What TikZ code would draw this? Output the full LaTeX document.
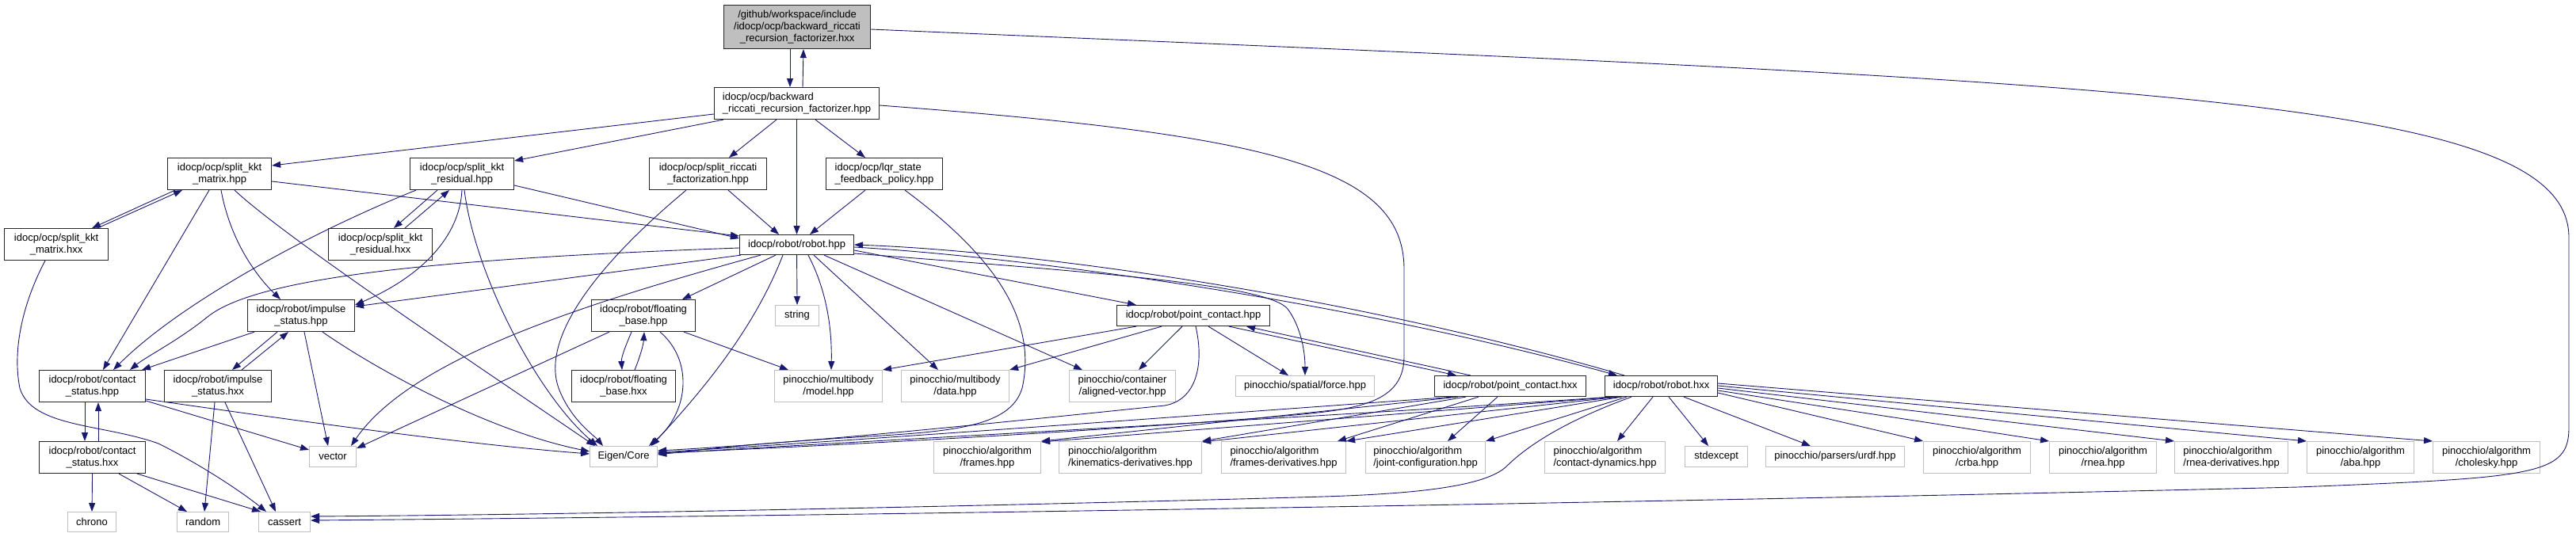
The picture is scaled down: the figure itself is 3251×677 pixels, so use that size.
\documentclass[tikz,border=0pt]{standalone}
\usepackage{fontspec}
\setmainfont{Liberation Sans}
\usetikzlibrary{arrows.meta}
\definecolor{mblue}{RGB}{25,25,112}
\definecolor{extgray}{RGB}{191,191,191}
\definecolor{topgray}{RGB}{191,191,191}
\begin{document}
\begin{tikzpicture}[x=1pt,y=-1pt,
  inbox/.style={draw=black!85, line width=1.1pt, inner sep=0pt, anchor=north west, align=center,
    font=\fontsize{13}{15}\selectfont, text=black},
  exbox/.style={inbox, draw=extgray},
  dep/.style={draw=mblue, line width=0.9pt, -{Triangle[length=11pt,width=8pt]}}]
\fill[white] (0,0) rectangle (3251,677);
\useasboundingbox (0,0) rectangle (3251,677);

% ---------- internal nodes ----------
\node[inbox, fill=topgray, minimum width=185pt, minimum height=55pt] (A) at (913,6) {/github/workspace/include\\/idocp/ocp/backward\_riccati\\\_recursion\_factorizer.hxx};
\node[inbox, align=left, minimum width=208pt, minimum height=40pt] (B) at (901,110) {idocp/ocp/backward\\\_riccati\_recursion\_factorizer.hpp};
\node[inbox, minimum width=131pt, minimum height=40pt] (C) at (211,199) {idocp/ocp/split\_kkt\\\_matrix.hpp};
\node[inbox, minimum width=131pt, minimum height=40pt] (D) at (5,288) {idocp/ocp/split\_kkt\\\_matrix.hxx};
\node[inbox, minimum width=131pt, minimum height=40pt] (E) at (517,199) {idocp/ocp/split\_kkt\\\_residual.hpp};
\node[inbox, minimum width=131pt, minimum height=40pt] (F) at (414,288) {idocp/ocp/split\_kkt\\\_residual.hxx};
\node[inbox, minimum width=148pt, minimum height=40pt] (G) at (819,199) {idocp/ocp/split\_riccati\\\_factorization.hpp};
\node[inbox, align=left, minimum width=147pt, minimum height=40pt] (H) at (1042,199) {idocp/ocp/lqr\_state\\\_feedback\_policy.hpp};
\node[inbox, minimum width=144pt, minimum height=25pt] (R) at (933,296) {idocp/robot/robot.hpp};
\node[inbox, minimum width=135pt, minimum height=40pt] (I) at (312,378) {idocp/robot/impulse\\\_status.hpp};
\node[inbox, minimum width=134pt, minimum height=40pt] (K) at (49,467) {idocp/robot/contact\\\_status.hpp};
\node[inbox, minimum width=135pt, minimum height=40pt] (J) at (207,467) {idocp/robot/impulse\\\_status.hxx};
\node[inbox, minimum width=134pt, minimum height=40pt] (L) at (49,557) {idocp/robot/contact\\\_status.hxx};
\node[inbox, minimum width=131pt, minimum height=40pt] (FB) at (746,378) {idocp/robot/floating\\\_base.hpp};
\node[inbox, minimum width=131pt, minimum height=40pt] (FBX) at (721,467) {idocp/robot/floating\\\_base.hxx};
\node[inbox, minimum width=193pt, minimum height=26pt] (PC) at (1409,385) {idocp/robot/point\_contact.hpp};
\node[inbox, minimum width=191pt, minimum height=26pt] (PCX) at (1810,474) {idocp/robot/point\_contact.hxx};
\node[inbox, minimum width=142pt, minimum height=26pt] (RX) at (2025,474) {idocp/robot/robot.hxx};

% ---------- external nodes ----------
\node[exbox, minimum width=59pt, minimum height=26pt] (vector) at (390,563) {vector};
\node[exbox, minimum width=61pt, minimum height=25pt] (chrono) at (85,646) {chrono};
\node[exbox, minimum width=65pt, minimum height=25pt] (random) at (223,646) {random};
\node[exbox, minimum width=65pt, minimum height=25pt] (cassert) at (326,646) {cassert};
\node[exbox, minimum width=55pt, minimum height=26pt] (string) at (978,385) {string};
\node[exbox, minimum width=136pt, minimum height=40pt] (model) at (977,467) {pinocchio/multibody\\/model.hpp};
\node[exbox, minimum width=85pt, minimum height=26pt] (Eigen) at (744,563) {Eigen/Core};
\node[exbox, minimum width=136pt, minimum height=40pt] (data) at (1137,467) {pinocchio/multibody\\/data.hpp};
\node[exbox, minimum width=134pt, minimum height=40pt] (aligned) at (1349,467) {pinocchio/container\\/aligned-vector.hpp};
\node[exbox, minimum width=175pt, minimum height=26pt] (force) at (1559,474) {pinocchio/spatial/force.hpp};
\node[exbox, minimum width=135pt, minimum height=40pt] (frames) at (1178,557) {pinocchio/algorithm\\/frames.hpp};
\node[exbox, align=left, minimum width=180pt, minimum height=40pt] (kinder) at (1336,557) {pinocchio/algorithm\\/kinematics-derivatives.hpp};
\node[exbox, align=left, minimum width=157pt, minimum height=40pt] (framesder) at (1541,557) {pinocchio/algorithm\\/frames-derivatives.hpp};
\node[exbox, align=left, minimum width=151pt, minimum height=40pt] (jointconf) at (1723,557) {pinocchio/algorithm\\/joint-configuration.hpp};
\node[exbox, align=left, minimum width=152pt, minimum height=40pt] (contactdyn) at (1949,557) {pinocchio/algorithm\\/contact-dynamics.hpp};
\node[exbox, minimum width=79pt, minimum height=26pt] (stdexcept) at (2126,563) {stdexcept};
\node[exbox, minimum width=175pt, minimum height=26pt] (urdf) at (2228,563) {pinocchio/parsers/urdf.hpp};
\node[exbox, minimum width=135pt, minimum height=40pt] (crba) at (2427,557) {pinocchio/algorithm\\/crba.hpp};
\node[exbox, minimum width=135pt, minimum height=40pt] (rnea) at (2586,557) {pinocchio/algorithm\\/rnea.hpp};
\node[exbox, align=left, minimum width=143pt, minimum height=40pt] (rnead) at (2744,557) {pinocchio/algorithm\\/rnea-derivatives.hpp};
\node[exbox, minimum width=135pt, minimum height=40pt] (aba) at (2911,557) {pinocchio/algorithm\\/aba.hpp};
\node[exbox, minimum width=135pt, minimum height=40pt] (cholesky) at (3070,557) {pinocchio/algorithm\\/cholesky.hpp};

% ---------- edges ----------
% A
\draw[dep] ([xshift=84pt]A.south west) -- ([xshift=96pt]B.north west);
\draw[dep] ([xshift=112pt]B.north west) -- ([xshift=101pt]A.south west);
\draw[dep] ([yshift=-31pt]A.north east) .. controls (2700,105) and (3242,120) .. (3242,300) -- (3242,540) .. controls (3242,600) and (3200,603) .. (2900,615) .. controls (2200,632) and (1200,650) .. ([yshift=-11pt]cassert.north east);
% B
\draw[dep] ([yshift=-34pt]B.north west) -- ([yshift=-10pt]C.north east);
\draw[dep] ([xshift=12pt]B.south west) -- ([yshift=-4pt]E.north east);
\draw[dep] ([xshift=79pt]B.south west) -- ([xshift=101pt]G.north west);
\draw[dep] (B.south) -- (R.north);
\draw[dep] ([xshift=128pt]B.south west) -- ([xshift=50pt]H.north west);
\draw[dep] ([yshift=-23pt]B.north east) .. controls (1600,170) and (1772,210) .. (1772,340) -- (1772,450) .. controls (1772,515) and (1700,518) .. (1600,527) .. controls (1300,550) and (1000,565) .. ([yshift=-9pt]Eigen.north east);
% C
\draw[dep] ([xshift=10pt]C.south west) -- ([xshift=111pt]D.north west);
\draw[dep] ([xshift=118pt]D.north west) -- ([xshift=19pt]C.south west);
\draw[dep] ([xshift=53pt]C.south west) -- ([xshift=81pt]K.north west);
\draw[dep] ([xshift=68pt]C.south west) .. controls (290,300) and (320,345) .. ([xshift=42pt]I.north west);
\draw[dep] ([xshift=85pt]C.south west) .. controls (360,300) and (600,460) .. ([xshift=7pt]Eigen.north west);
\draw[dep] ([yshift=-30pt]C.north east) -- ([yshift=-2pt]R.north west);
% D
\draw[dep] ([xshift=52pt]D.south west) .. controls (30,380) and (15,440) .. (25,490) .. controls (40,540) and (130,535) .. (200,560) .. controls (260,590) and (310,625) .. ([xshift=10pt]cassert.north west);
% E
\draw[dep] ([xshift=35pt]E.south west) -- ([xshift=83pt]F.north west);
\draw[dep] ([xshift=97pt]F.north west) -- ([xshift=50pt]E.south west);
\draw[dep] ([xshift=8pt]E.south west) .. controls (400,290) and (230,380) .. ([xshift=94pt]K.north west);
\draw[dep] ([xshift=66pt]E.south west) .. controls (580,300) and (530,350) .. ([yshift=-7pt]I.north east);
\draw[dep] ([xshift=69pt]E.south west) .. controls (600,350) and (680,500) .. ([xshift=10pt]Eigen.north west);
\draw[dep] ([yshift=-35pt]E.north east) -- ([yshift=-5pt]R.north west);
% G, H
\draw[dep] ([xshift=100pt]G.south west) -- ([xshift=50pt]R.north west);
\draw[dep] ([xshift=47pt]G.south west) .. controls (770,320) and (680,420) .. (705,490) .. controls (720,530) and (750,550) .. ([xshift=17pt]Eigen.north west);
\draw[dep] ([xshift=50pt]H.south west) -- ([xshift=89pt]R.north west);
\draw[dep] ([xshift=100pt]H.south west) .. controls (1250,320) and (1310,400) .. (1290,490) .. controls (1275,540) and (1200,545) .. (1080,552) .. controls (950,560) and (880,568) .. ([yshift=-11pt]Eigen.north east);
% R
\draw[dep] ([yshift=-17pt]R.north west) .. controls (600,325) and (330,345) .. (262,400) .. controls (225,430) and (185,450) .. ([xshift=115pt]K.north west);
\draw[dep] ([xshift=2pt]R.south west) -- ([yshift=-9pt]I.north east);
\draw[dep] ([xshift=27pt]R.south west) .. controls (750,380) and (520,450) .. ([xshift=53pt]vector.north west);
\draw[dep] ([xshift=46pt]R.south west) -- ([xshift=115pt]FB.north west);
\draw[dep] ([xshift=55pt]R.south west) .. controls (950,420) and (880,500) .. ([xshift=78pt]Eigen.north west);
\draw[dep] (R.south) -- (string.north);
\draw[dep] ([xshift=87pt]R.south west) .. controls (1045,370) and (1050,420) .. ([xshift=72pt]model.north west);
\draw[dep] ([xshift=94pt]R.south west) -- ([xshift=47pt]data.north west);
\draw[dep] ([xshift=107pt]R.south west) -- ([xshift=17pt]aligned.north west);
\draw[dep] ([yshift=-20pt]R.north east) -- ([xshift=25pt]PC.north west);
\draw[dep] ([yshift=-24pt]R.north east) .. controls (1400,345) and (1600,360) .. (1625,390) .. controls (1640,410) and (1647,440) .. ([xshift=88pt]force.north west);
\draw[dep] ([yshift=-16pt]R.north east) .. controls (1300,325) and (1700,380) .. ([xshift=16pt]RX.north west);
\draw[dep] ([xshift=25pt]RX.north west) .. controls (1700,372) and (1300,317) .. ([yshift=-13pt]R.north east);
% I
\draw[dep] ([xshift=38pt]I.south west) -- ([xshift=86pt]J.north west);
\draw[dep] ([xshift=98pt]J.north west) -- ([xshift=52pt]I.south west);
\draw[dep] ([xshift=9pt]I.south west) -- ([xshift=130pt]K.north west);
\draw[dep] ([xshift=72pt]I.south west) -- ([xshift=24pt]vector.north west);
\draw[dep] ([xshift=95pt]I.south west) .. controls (480,470) and (620,545) .. ([yshift=-7pt]Eigen.north west);
% K, L, J
\draw[dep] ([xshift=58pt]K.south west) -- ([xshift=58pt]L.north west);
\draw[dep] ([xshift=75pt]L.north west) -- ([xshift=75pt]K.south west);
\draw[dep] ([yshift=-39pt]K.north east) -- ([yshift=-5pt]vector.north west);
\draw[dep] ([yshift=-37pt]K.north east) .. controls (400,535) and (600,562) .. ([yshift=-10pt]Eigen.north west);
\draw[dep] ([xshift=64pt]J.south west) -- ([xshift=35pt]random.north west);
\draw[dep] ([xshift=77pt]J.south west) -- ([xshift=22pt]cassert.north west);
\draw[dep] (L.south) -- (chrono.north);
\draw[dep] ([xshift=101pt]L.south west) -- ([xshift=13pt]random.north west);
\draw[dep] ([xshift=124pt]L.south west) -- ([xshift=3pt]cassert.north west);
% FB
\draw[dep] ([xshift=51pt]FB.south west) .. controls (788,440) and (784,452) .. ([xshift=64pt]FBX.north west);
\draw[dep] ([xshift=80pt]FBX.north west) .. controls (808,450) and (812,435) .. ([xshift=67pt]FB.south west);
\draw[dep] ([xshift=87pt]FB.south west) .. controls (875,455) and (870,520) .. ([xshift=75pt]Eigen.north west);
\draw[dep] ([xshift=117pt]FB.south west) -- ([xshift=18pt]model.north west);
\draw[dep] ([xshift=23pt]FB.south west) -- ([yshift=-3pt]vector.north east);
% PC
\draw[dep] ([xshift=25pt]PC.south west) -- (model.north east);
\draw[dep] ([xshift=57pt]PC.south west) -- (data.north east);
\draw[dep] ([xshift=83pt]PC.south west) -- ([xshift=88pt]aligned.north west);
\draw[dep] ([xshift=116pt]PC.south west) -- ([xshift=67pt]force.north west);
\draw[dep] ([xshift=100pt]PC.south west) .. controls (1520,460) and (1510,505) .. (1470,512) .. controls (1200,540) and (1000,560) .. ([yshift=-6pt]Eigen.north east);
\draw[dep] ([xshift=142pt]PC.south west) -- ([xshift=28pt]PCX.north west);
\draw[dep] ([xshift=46pt]PCX.north west) -- ([xshift=164pt]PC.south west);
% PCX
\draw[dep] ([xshift=24pt]PCX.south west) .. controls (1500,525) and (1100,555) .. ([yshift=-8pt]Eigen.north east);
\draw[dep] ([xshift=30pt]PCX.south west) -- (frames.north east);
\draw[dep] ([xshift=40pt]PCX.south west) -- (kinder.north east);
\draw[dep] ([xshift=56pt]PCX.south west) -- ([xshift=147pt]framesder.north west);
\draw[dep] ([xshift=80pt]PCX.south west) -- ([xshift=104pt]jointconf.north west);
% RX
\draw[dep] ([xshift=8pt]RX.south west) .. controls (1700,525) and (1100,556) .. ([yshift=-10pt]Eigen.north east);
\draw[dep] ([xshift=14pt]RX.south west) -- ([yshift=-1pt]frames.north east);
\draw[dep] ([xshift=18pt]RX.south west) -- ([yshift=-1pt]kinder.north east);
\draw[dep] ([xshift=22pt]RX.south west) -- (framesder.north east);
\draw[dep] ([xshift=28pt]RX.south west) -- (jointconf.north east);
\draw[dep] ([xshift=61pt]RX.south west) -- ([xshift=92pt]contactdyn.north west);
\draw[dep] ([xshift=81pt]RX.south west) -- ([xshift=30pt]stdexcept.north west);
\draw[dep] ([xshift=100pt]RX.south west) -- ([xshift=57pt]urdf.north west);
\draw[dep] ([yshift=-22pt]RX.north east) -- (crba.north west);
\draw[dep] ([yshift=-19pt]RX.north east) -- (rnea.north west);
\draw[dep] ([yshift=-16pt]RX.north east) -- (rnead.north west);
\draw[dep] ([yshift=-13pt]RX.north east) -- (aba.north west);
\draw[dep] ([yshift=-10pt]RX.north east) -- (cholesky.north west);
\draw[dep] ([xshift=34pt]RX.south west) .. controls (1980,530) and (1930,560) .. (1900,590) .. controls (1860,625) and (1700,626) .. (1600,629) .. controls (1200,640) and (700,650) .. ([yshift=-6pt]cassert.north east);
\end{tikzpicture}
\end{document}
